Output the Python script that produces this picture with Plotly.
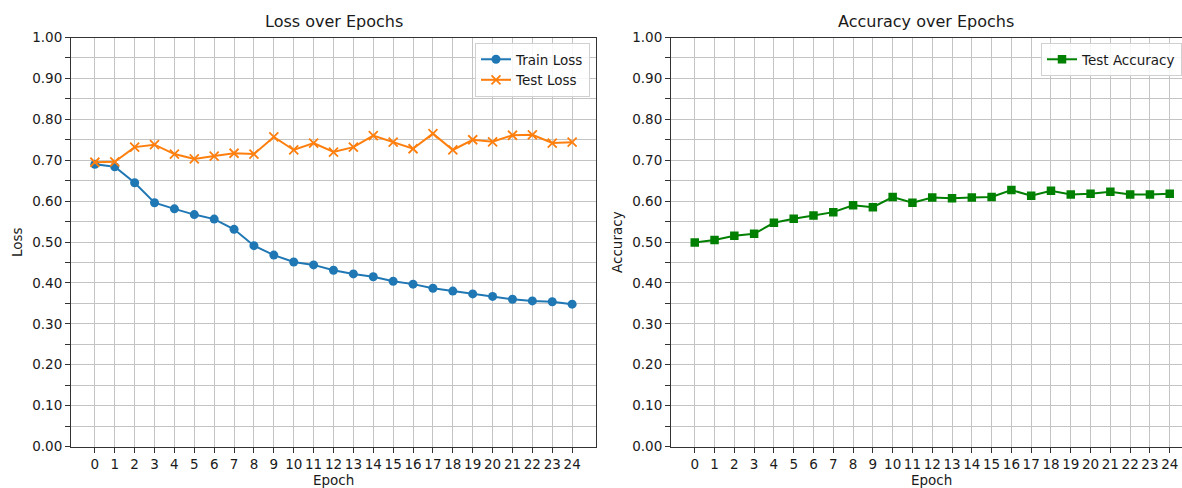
import plotly.graph_objects as go

epochs = list(range(25))
train_loss = [0.690, 0.684, 0.645, 0.596, 0.581, 0.567, 0.556, 0.531, 0.491, 0.468,
              0.451, 0.444, 0.431, 0.422, 0.415, 0.404, 0.397, 0.387, 0.380, 0.373,
              0.367, 0.360, 0.356, 0.354, 0.348]
test_loss = [0.695, 0.696, 0.732, 0.738, 0.715, 0.703, 0.710, 0.717, 0.715, 0.757,
             0.725, 0.742, 0.720, 0.732, 0.760, 0.744, 0.728, 0.765, 0.725, 0.750,
             0.745, 0.761, 0.762, 0.742, 0.744]
test_acc = [0.499, 0.505, 0.515, 0.520, 0.547, 0.557, 0.565, 0.573, 0.590, 0.585,
            0.610, 0.596, 0.609, 0.607, 0.609, 0.610, 0.627, 0.613, 0.625, 0.616,
            0.618, 0.623, 0.616, 0.616, 0.618]
tick_labels = [str(e) for e in epochs]

W, H = 1182, 488
FONT = "DejaVu Sans"
TXT = "#1a1a1a"
GRID = "#c4c4c4"

def px_x(p):
    return p / W

def px_y(p):
    return 1 - p / H

y_dom = [px_y(446.5), px_y(37.5)]

fig = go.Figure()

fig.add_trace(go.Scatter(
    x=epochs, y=train_loss, mode="lines+markers", name="Train Loss",
    line=dict(color="#1f77b4", width=2),
    marker=dict(symbol="circle", size=9, color="#1f77b4"),
    xaxis="x", yaxis="y", legend="legend"))
fig.add_trace(go.Scatter(
    x=epochs, y=test_loss, mode="lines+markers", name="Test Loss",
    line=dict(color="#ff7f0e", width=2),
    marker=dict(symbol="x-thin", size=9, color="#ff7f0e",
                line=dict(color="#ff7f0e", width=1.8)),
    xaxis="x", yaxis="y", legend="legend"))
fig.add_trace(go.Scatter(
    x=epochs, y=test_acc, mode="lines+markers", name="Test Accuracy",
    line=dict(color="#008000", width=2),
    marker=dict(symbol="square", size=8.5, color="#008000"),
    xaxis="x2", yaxis="y2", legend="legend2"))

common_x = dict(
    tickmode="array", tickvals=epochs, ticktext=tick_labels,
    showgrid=True, gridcolor=GRID, gridwidth=1,
    ticks="outside", ticklen=5, tickwidth=1, tickcolor="#333",
    showline=True, linecolor="#333", linewidth=1, automargin=False,
    zeroline=False, tickfont=dict(family=FONT, size=13.5, color=TXT),
)
common_y = dict(
    range=[0, 1], dtick=0.1, tick0=0, tickformat=".2f",
    showgrid=True, gridcolor=GRID, gridwidth=1,
    ticks="outside", ticklen=5, tickwidth=1, tickcolor="#333",
    minor=dict(dtick=0.05, tick0=0, showgrid=True, gridcolor=GRID, gridwidth=1,
               ticks="outside", ticklen=5, tickcolor="#333"),
    showline=True, linecolor="#333", linewidth=1, automargin=False,
    zeroline=False, tickfont=dict(family=FONT, size=13.5, color=TXT),
)

fig.update_layout(
    width=W, height=H, autosize=False,
    margin=dict(l=0, r=0, t=0, b=0, pad=0, autoexpand=False),
    paper_bgcolor="white", plot_bgcolor="white",
    font=dict(family=FONT, size=13.5, color=TXT),
    xaxis=dict(domain=[px_x(71), px_x(596)], range=[-1.2, 25.2], mirror=True,
               anchor="y", **common_x),
    yaxis=dict(domain=y_dom, anchor="x", mirror=True, **common_y),
    xaxis2=dict(domain=[px_x(671), 1.0], range=[-1.2, 24.62], mirror=True,
                anchor="y2", **common_x),
    yaxis2=dict(domain=y_dom, anchor="x2", mirror=False, **common_y),
    legend=dict(x=px_x(590), y=px_y(43), xanchor="right", yanchor="top",
                bgcolor="rgba(255,255,255,0.85)", bordercolor="#d0d0d0", borderwidth=1,
                font=dict(family=FONT, size=13.5, color=TXT), itemwidth=30,
                tracegroupgap=2),
    legend2=dict(x=px_x(1041), y=px_y(43), xanchor="left", yanchor="top",
                 bgcolor="rgba(255,255,255,0.85)", bordercolor="#d0d0d0", borderwidth=1,
                 font=dict(family=FONT, size=13.5, color=TXT), itemwidth=30),
    showlegend=True,
)

annotations = [
    dict(text="Loss over Epochs", x=px_x(333.5), y=px_y(22), font=dict(size=16)),
    dict(text="Accuracy over Epochs", x=px_x(926), y=px_y(22), font=dict(size=16)),
    dict(text="Epoch", x=px_x(333.5), y=px_y(480), font=dict(size=13.5)),
    dict(text="Epoch", x=px_x(931), y=px_y(480), font=dict(size=13.5)),
    dict(text="Loss", x=px_x(17), y=px_y(242), font=dict(size=13.5), textangle=-90),
    dict(text="Accuracy", x=px_x(617), y=px_y(242), font=dict(size=13.5), textangle=-90),
]
for a in annotations:
    a.update(xref="paper", yref="paper", showarrow=False, xanchor="center", yanchor="middle")
    a["font"] = dict(family=FONT, color=TXT, **a["font"])
fig.update_layout(annotations=annotations)

fig.write_html(
    "out.html",
    config={"displayModeBar": False},
    post_script="document.body.style.margin='0px';document.body.style.padding='0px';"
                "document.body.style.overflow='hidden';"
                "document.documentElement.style.overflow='hidden';",
)
